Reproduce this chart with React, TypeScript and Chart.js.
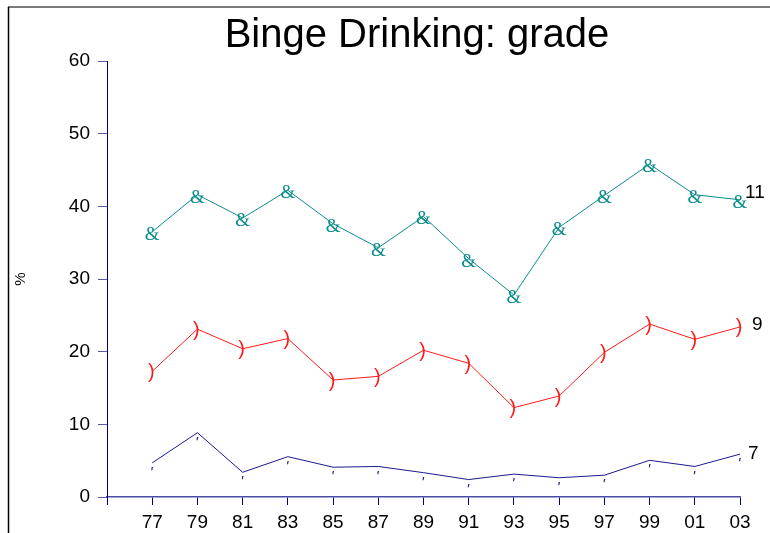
import { useEffect, useRef } from 'react';
import { Chart, registerables } from 'chart.js';

Chart.register(...registerables);

const years = ['77', '79', '81', '83', '85', '87', '89', '91', '93', '95', '97', '99', '01', '03'];
const grade11 = [36.5, 41.6, 38.4, 42.2, 37.6, 34.3, 38.6, 32.8, 27.8, 37.1, 41.5, 45.8, 41.6, 40.9];
const grade9 = [17.3, 23.1, 20.4, 21.8, 16.1, 16.6, 20.2, 18.4, 12.3, 13.9, 19.9, 23.8, 21.7, 23.4];
const grade7 = [4.7, 8.85, 3.4, 5.55, 4.1, 4.2, 3.35, 2.4, 3.15, 2.65, 3.0, 5.05, 4.2, 5.9];
const seriesNames = ['11', '9', '7'];
const seriesColors = ['#0a8c8c', '#ff1a1a', '#1a1a8c'];
const seriesGlyphs = ['&', ')', "'"];
const yMin = 0;
const yMax = 60;
const yStep = 10;
const titleText = 'Binge Drinking: grade';
const yTitle = '%';

const SANS = '"Liberation Sans", Arial, sans-serif';
const NARROW = '"Liberation Sans Narrow", "Arial Narrow", "Liberation Sans", sans-serif';

const glyphStyle = [
  { font: '19px "Liberation Serif", serif', dx: 0, dy: 3, lx: 5, ly: -7 },
  { font: '20px "Liberation Sans", sans-serif', dx: -1, dy: 1, lx: 12, ly: -2 },
  { font: 'italic 15px "Liberation Sans", sans-serif', dx: -1, dy: 10, lx: 8, ly: 0 },
];

const framePlugin = {
  id: 'frame',
  beforeDraw(chart: any) {
    const ctx = chart.ctx;
    ctx.save();
    ctx.fillStyle = '#ffffff';
    ctx.fillRect(0, 0, chart.width, chart.height);
    ctx.strokeStyle = '#7a7a7a';
    ctx.lineWidth = 2;
    ctx.beginPath();
    ctx.moveTo(8, 7);
    ctx.lineTo(chart.width, 7);
    ctx.stroke();
    ctx.strokeStyle = '#000000';
    ctx.lineWidth = 1.5;
    ctx.beginPath();
    ctx.moveTo(8.5, 7);
    ctx.lineTo(8.5, chart.height);
    ctx.stroke();
    ctx.restore();
  },
  afterDraw(chart: any) {
    const ctx = chart.ctx;
    ctx.save();
    ctx.fillStyle = '#000';
    ctx.font = '40px ' + SANS;
    ctx.textAlign = 'center';
    ctx.textBaseline = 'alphabetic';
    ctx.fillText(titleText, 417, 47);
    ctx.restore();
  },
};

const markerPlugin = {
  id: 'markers',
  afterDatasetsDraw(chart: any) {
    const ctx = chart.ctx;
    chart.data.datasets.forEach((ds: any, di: number) => {
      const meta = chart.getDatasetMeta(di);
      const st = glyphStyle[di];
      ctx.save();
      ctx.fillStyle = seriesColors[di];
      ctx.font = st.font;
      ctx.textAlign = 'center';
      ctx.textBaseline = 'middle';
      let last: any = null;
      meta.data.forEach((pt: any, i: number) => {
        if (ds.data[i] == null || pt.skip) return;
        ctx.fillText(seriesGlyphs[di], pt.x + st.dx, pt.y + st.dy);
        last = pt;
      });
      if (last) {
        ctx.fillStyle = '#000';
        ctx.font = '19px ' + SANS;
        ctx.textAlign = 'left';
        ctx.fillText(seriesNames[di], last.x + st.lx, last.y + st.ly);
      }
      ctx.restore();
    });
  },
};

export default function App() {
  const ref = useRef<HTMLCanvasElement>(null);
  useEffect(() => {
    if (!ref.current) return;
    const labels = ['', ...years];
    const chart = new Chart(ref.current, {
      type: 'line',
      data: {
        labels,
        datasets: [grade11, grade9, grade7].map((vals, i) => ({
          label: seriesNames[i],
          data: [null, ...vals],
          borderColor: seriesColors[i],
          backgroundColor: seriesColors[i],
          borderWidth: 1,
          pointRadius: 0,
          tension: 0,
          fill: false,
        })),
      },
      options: {
        responsive: false,
        animation: false,
        layout: { padding: { left: 0, right: 30, top: 61, bottom: 0 } },
        plugins: {
          legend: { display: false },
          tooltip: { enabled: false },
          title: { display: false },
        },
        scales: {
          x: {
            type: 'category',
            offset: false,
            grid: { drawOnChartArea: false, drawTicks: true, tickLength: 8, tickColor: '#000080', color: '#000080' },
            border: { display: true, color: '#4b4ba8', width: 1.5 },
            ticks: { color: '#000', font: { family: NARROW, size: 19 }, padding: 6, maxRotation: 0, autoSkip: false },
            afterFit: (s: any) => { s.height = 36; },
          },
          y: {
            min: yMin,
            max: yMax,
            ticks: { stepSize: yStep, color: '#000', font: { family: SANS, size: 19 }, padding: 8 },
            grid: { drawOnChartArea: false, drawTicks: true, tickLength: 9, tickColor: '#5a5ab0', color: '#5a5ab0' },
            border: { display: true, color: '#000080', width: 1 },
            title: { display: true, text: yTitle, color: '#000', font: { family: SANS, size: 15 }, padding: { top: 12, bottom: 0 } },
            afterFit: (s: any) => { s.width = 107; },
          },
        },
      } as any,
      plugins: [framePlugin, markerPlugin],
    });
    return () => chart.destroy();
  }, []);
  return (
    <canvas
      ref={ref}
      width={770}
      height={533}
      style={{ position: 'absolute', left: 0, top: 0, width: 770, height: 533, display: 'block' }}
    />
  );
}
